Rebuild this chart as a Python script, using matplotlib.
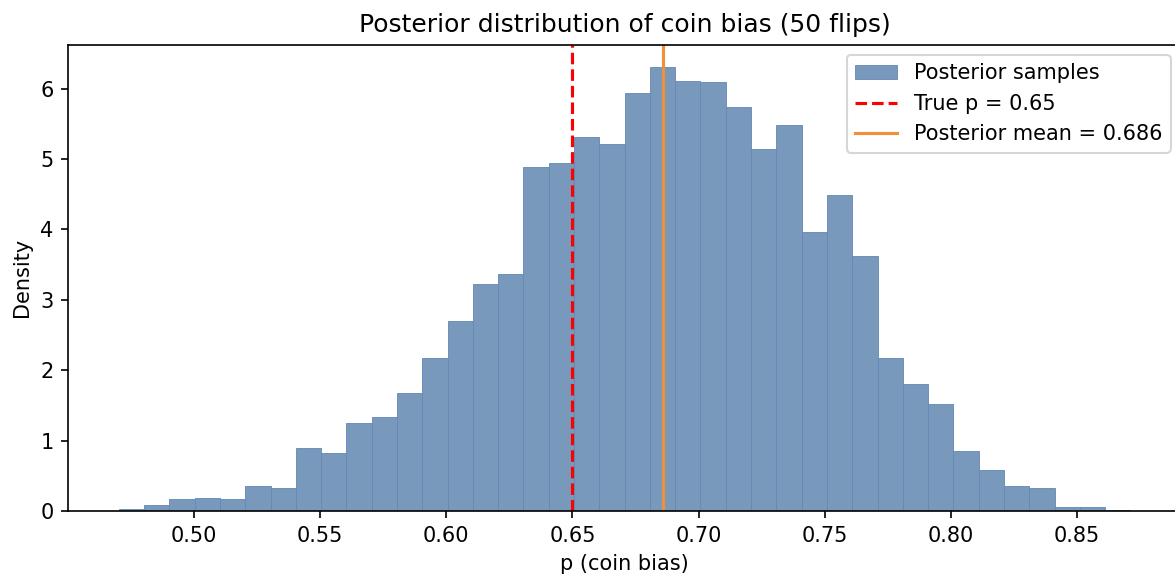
import numpy as np
import matplotlib
matplotlib.use("Agg")
import matplotlib.pyplot as plt

# histogram of posterior samples (density per bin)
bin_start = 0.4703
bin_width = 0.01002
density = [0.03, 0.09, 0.17, 0.19, 0.17, 0.36, 0.32, 0.89, 0.82, 1.25,
           1.34, 1.67, 2.17, 2.70, 3.22, 3.37, 4.89, 4.95, 5.32, 5.22,
           5.94, 6.31, 6.11, 6.10, 5.74, 5.15, 5.49, 3.96, 4.49, 3.62,
           2.17, 1.80, 1.52, 0.85, 0.58, 0.35, 0.32, 0.05, 0.06, 0.02]
true_p = 0.65
post_mean = 0.686

edges = bin_start + bin_width * np.arange(len(density) + 1)

fig = plt.figure(figsize=(1175 / 150, 575 / 150), dpi=150)
ax = fig.add_axes([0.0581, 0.1113, 0.947, 0.811])

bars = ax.bar(edges[:-1], density, width=bin_width, align='edge',
              color='#7899bc', edgecolor='#6288b4', linewidth=0.4,
              label='Posterior samples')
l_true = ax.axvline(true_p, color='red', linestyle='--', linewidth=1.5,
                    label=f'True p = {true_p}')
l_mean = ax.axvline(post_mean, color='#f0913a', linestyle='-', linewidth=1.5,
                    label=f'Posterior mean = {post_mean}')

ax.set_title('Posterior distribution of coin bias (50 flips)')
ax.set_xlabel('p (coin bias)')
ax.set_ylabel('Density')
ax.legend(handles=[bars, l_true, l_mean], loc='upper right')

fig.savefig('out.png', dpi=150)
plt.close(fig)
